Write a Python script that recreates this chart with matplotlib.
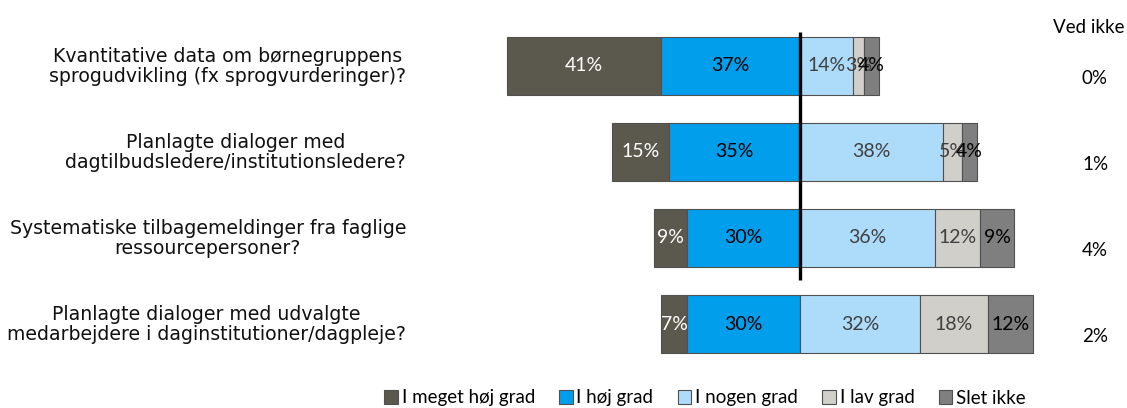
import matplotlib
matplotlib.use("Agg")
import matplotlib.pyplot as plt
from matplotlib.patches import Patch

plt.rcParams['font.family'] = ['Lato', 'DejaVu Sans']

categories = [
    "Kvantitative data om børnegruppens\nsprogudvikling (fx sprogvurderinger)?",
    "Planlagte dialoger med\ndagtilbudsledere/institutionsledere?",
    "Systematiske tilbagemeldinger fra faglige\nressourcepersoner?",
    "Planlagte dialoger med udvalgte\nmedarbejdere i daginstitutioner/dagpleje?",
]
series_names = ["I meget høj grad", "I høj grad", "I nogen grad", "I lav grad", "Slet ikke"]
meget_hoej = [41, 15, 9, 7]
hoej = [37, 35, 30, 30]
nogen = [14, 38, 36, 32]
lav = [3, 5, 12, 18]
slet = [4, 4, 9, 12]
ved_ikke = [0, 1, 4, 2]

colors = ["#5B594D", "#009EEB", "#ADDCFB", "#D0CFCA", "#7F7F7F"]
text_colors = ["white", "black", "#404040", "#404040", "black"]

W, H = 1127, 408
fig = plt.figure(figsize=(W / 100, H / 100), dpi=100)
ax = fig.add_axes([0, 0, 1, 1])
ppu = 3.756  # pixels per percent
cx = 800
ax.set_xlim(-cx / ppu, (W - cx) / ppu)
y0, dy = 66, 86
ax.set_ylim((H - y0) / dy, -y0 / dy)
ax.axis('off')

bh = 0.665
fs = 13.5
for i in range(len(categories)):
    left_vals = [meget_hoej[i], hoej[i]]
    right_vals = [nogen[i], lav[i], slet[i]]
    start = -(left_vals[0] + left_vals[1])
    segs = []
    pos = start
    for v in left_vals:
        segs.append((pos, v))
        pos += v
    pos = 0
    for v in right_vals:
        segs.append((pos, v))
        pos += v
    for k, (s, v) in enumerate(segs):
        ax.barh(i, v, left=s, height=bh, color=colors[k], edgecolor="#505050", linewidth=0.8)
        ax.text(s + v / 2, i, f"{v}%", ha='center', va='center', color=text_colors[k], fontsize=14)
    ax.text((406 - cx) / ppu, i + 0.01, categories[i], ha='right', va='center', fontsize=13.6,
            family='DejaVu Sans', multialignment='center', color='#111111', linespacing=1.08)
    ax.text((1095 - cx) / ppu, i + 0.14, f"{ved_ikke[i]}%", ha='center', va='center', fontsize=fs)

ax.text((1089 - cx) / ppu, (28 - y0) / dy, "Ved ikke", ha='center', va='center', fontsize=fs)
ax.plot([0, 0], [(32 - y0) / dy, (280 - y0) / dy], color='black', linewidth=2.4, solid_capstyle='butt')

handles = [Patch(facecolor=c, edgecolor="#505050", linewidth=0.8) for c in colors]
fig.legend(handles, series_names, loc='center', bbox_to_anchor=(705 / W, 1 - 398 / H), ncol=5,
           frameon=False, fontsize=fs, handlelength=0.72, handleheight=0.72, handletextpad=0.2,
           columnspacing=1.3, borderaxespad=0)

fig.savefig("out.png", dpi=100)
